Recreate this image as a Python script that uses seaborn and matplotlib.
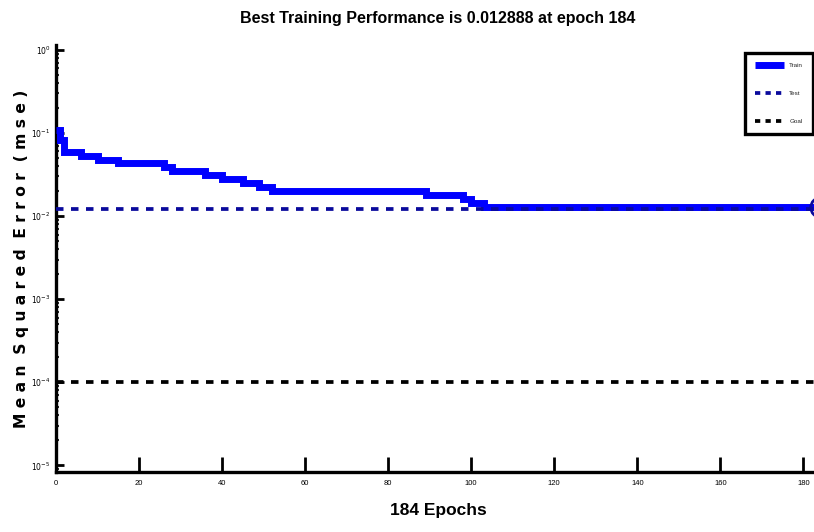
import matplotlib
matplotlib.use("Agg")
import matplotlib.pyplot as plt
from matplotlib import font_manager
from matplotlib.ticker import LogLocator, NullFormatter, FixedLocator
import numpy as np
import pandas as pd
import seaborn as sns

# Training record: epochs where the train error changes, and its value there
train_epochs = [0, 1, 2, 6, 10, 15, 26, 28, 36, 40, 45, 49, 52, 89, 98, 100, 103, 184]
train_mse = [0.109, 0.082, 0.059, 0.0533, 0.0477, 0.0431, 0.0386, 0.0348, 0.0312,
             0.0279, 0.0252, 0.0225, 0.0202, 0.0179, 0.0162, 0.0145, 0.012888, 0.012888]
span_epochs = [0, 184]
test_mse = [0.0121, 0.0121]
goal_mse = [1e-4, 1e-4]
best_epoch = 184
best_mse = 0.012888

x_ticks = [0, 20, 40, 60, 80, 100, 120, 140, 160, 180]
y_decades = [-5, -4, -3, -2, -1, 0]

sns.set_theme(style="white")
names = {f.name for f in font_manager.fontManager.ttflist}
narrow = "Liberation Sans Narrow" if "Liberation Sans Narrow" in names else "Liberation Sans"
plt.rcParams["font.family"] = [narrow, "DejaVu Sans"]
plt.rcParams["mathtext.fontset"] = "dejavusans"

W, H = 814, 532
fig = plt.figure(figsize=(W / 100, H / 100), dpi=100)
fig.patch.set_facecolor("white")
ax = fig.add_axes([56 / W, (H - 472) / H, (820 - 56) / W, (472 - 45) / H])
ax.set_facecolor("white")

train_df = pd.DataFrame({"epoch": train_epochs, "mse": train_mse})
test_df = pd.DataFrame({"epoch": span_epochs, "mse": test_mse})
goal_df = pd.DataFrame({"epoch": span_epochs, "mse": goal_mse})

sns.lineplot(data=train_df, x="epoch", y="mse", ax=ax, color="#0000FF",
             linewidth=5.0, drawstyle="steps-post", label="Train", zorder=3,
             solid_capstyle="butt", solid_joinstyle="miter")
sns.lineplot(data=test_df, x="epoch", y="mse", ax=ax, color="#0A0A9C",
             linewidth=2.7, dashes=False, label="Test", zorder=4)
sns.lineplot(data=goal_df, x="epoch", y="mse", ax=ax, color="black",
             linewidth=2.7, dashes=False, label="Goal", zorder=4)
for ln in ax.lines[1:3]:
    ln.set_dashes((2, 2))
    ln.set_dash_capstyle("butt")

ax.plot([best_epoch], [best_mse], marker="o", markersize=14, markerfacecolor="none",
        markeredgecolor="#0A0A9C", markeredgewidth=2.0, clip_on=False, zorder=5)

ax.set_yscale("log")
ax.set_xlim(0, 184)
ax.set_ylim(10 ** -5.08, 10 ** 0.06)

ax.xaxis.set_major_locator(FixedLocator(x_ticks))
ax.set_xticklabels([str(t) for t in x_ticks])
ax.yaxis.set_major_locator(FixedLocator([10.0 ** d for d in y_decades]))
ax.set_yticklabels([rf"$10^{{{d}}}$" for d in y_decades])
ax.yaxis.set_minor_locator(LogLocator(base=10, subs=np.arange(2, 10), numticks=20))
ax.yaxis.set_minor_formatter(NullFormatter())

for side in ("top", "right"):
    ax.spines[side].set_visible(False)
for side in ("left", "bottom"):
    ax.spines[side].set_linewidth(2.4)
    ax.spines[side].set_color("black")

ax.tick_params(axis="x", which="major", direction="in", length=11, width=2.0,
               labelsize=5.5, pad=6, colors="black", bottom=True, top=False)
ax.tick_params(axis="y", which="major", direction="in", length=5.5, width=2.0,
               labelsize=5.5, pad=4, colors="black", left=True, right=False)
ax.tick_params(axis="y", which="minor", direction="in", length=2.5, width=1.5,
               left=True, right=False)

ax.set_title("Best Training Performance is 0.012888 at epoch 184",
             fontsize=11.5, fontweight="bold", pad=16, color="black")
ax.set_xlabel("184 Epochs", fontsize=12.5, fontweight="bold", labelpad=11, color="black")
ax.set_ylabel("M e a n  S q u a r e d  E r r o r  ( m s e )", fontsize=11.2,
              fontweight="bold", labelpad=1.5, color="black", family="DejaVu Sans")

leg = ax.legend(loc="upper right", bbox_to_anchor=((813 - 56) / 764, (472 - 53) / 427),
                fontsize=4.5, frameon=True, fancybox=False, framealpha=1.0,
                borderpad=1.6, labelspacing=3.6, handlelength=4.6,
                handletextpad=0.8, borderaxespad=0)
leg.get_frame().set_edgecolor("black")
leg.get_frame().set_linewidth(2.4)
leg.get_lines()[0].set_solid_capstyle("butt")
for h in leg.get_lines()[1:]:
    h.set_dashes((1.4, 1.4))
    h.set_dash_capstyle("butt")

fig.savefig("out.png", dpi=100, facecolor="white")
